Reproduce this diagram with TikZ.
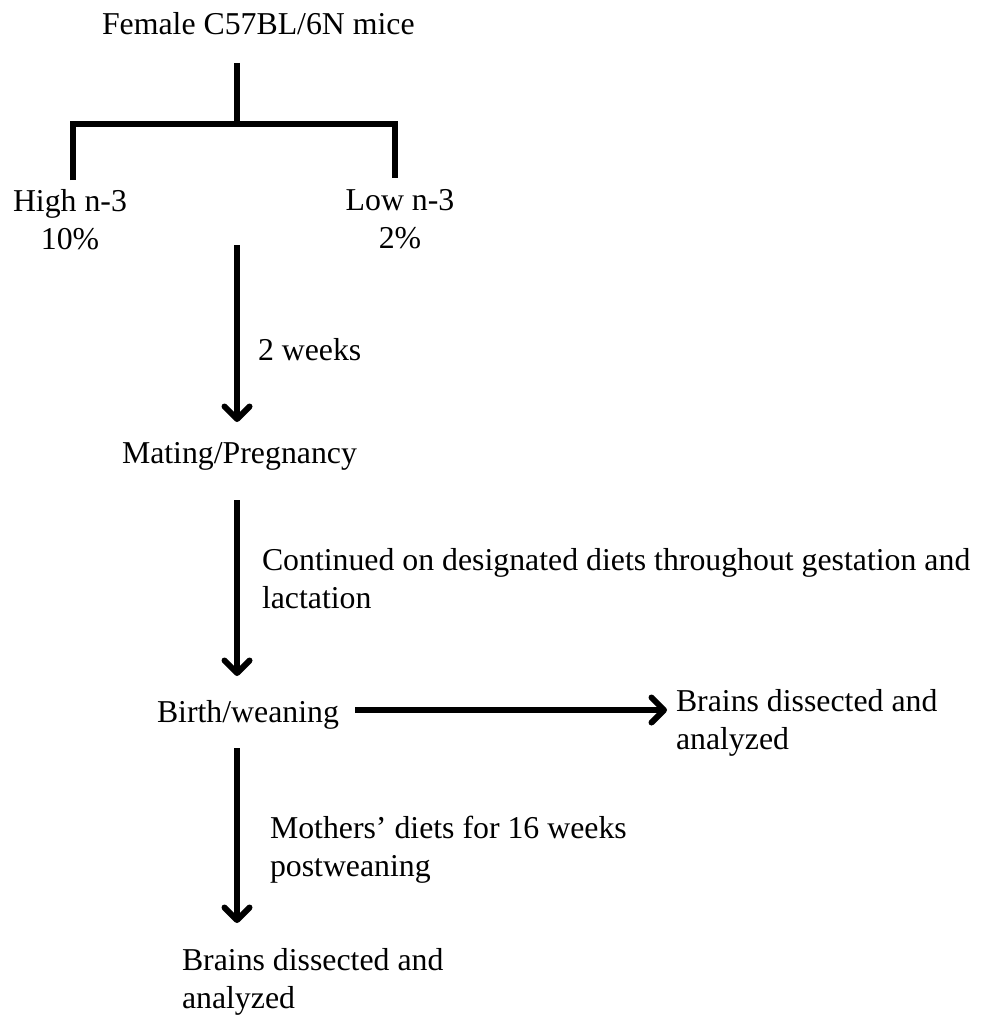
\documentclass[tikz,border=0pt]{standalone}
\usepackage{fontspec}
\setmainfont{Liberation Serif}
\usetikzlibrary{arrows.meta}
\begin{document}
\begin{tikzpicture}[x=1pt,y=-1pt,
  lbl/.style={inner sep=0pt, outer sep=0pt, font=\fontsize{31.8}{37.5}\selectfont},
  treeline/.style={line width=6pt, line join=miter},
  flow/.style={line width=6pt, -{Straight Barb[length=12.5pt,width=25pt,line cap=round,line join=round]}}]
\fill[white] (0,0) rectangle (982,1022);
\useasboundingbox (0,0) rectangle (982,1022);
% labels
\node[lbl, anchor=base west] (female) at (102,35) {Female C57BL/6N mice};
\node[lbl, anchor=base, align=center] (high) at (70,249) {High n-3\\10\%};
\node[lbl, anchor=base, align=center] (low) at (400,248) {Low n-3\\2\%};
\node[lbl, anchor=base west] (wk2) at (258,360) {2 weeks};
\node[lbl, anchor=base west] (mating) at (122,463) {Mating/Pregnancy};
\node[lbl, anchor=base west, align=left] (cont) at (262,608) {Continued on designated diets throughout gestation and\\lactation};
\node[lbl, anchor=base west] (birth) at (157,722) {Birth/weaning};
\node[lbl, anchor=base west, align=left] (brainsR) at (676,749) {Brains dissected and\\analyzed};
\node[lbl, anchor=base west, align=left] (moth) at (270,876) {Mothers’ diets for 16 weeks\\postweaning};
\node[lbl, anchor=base west, align=left] (brainsB) at (182,1008) {Brains dissected and\\analyzed};
% tree
\coordinate (stemtop) at (237,63);
\coordinate (split) at (237,124);
\coordinate (barL) at (73,124);
\coordinate (barR) at (395,124);
\coordinate (dropL) at (73,180);
\coordinate (dropR) at (395,178);
\draw[treeline] (stemtop) -- (split);
\draw[treeline] (dropL) -- (barL) -- (barR) -- (dropR);
% arrows
\coordinate (a1s) at (237,245); \coordinate (a1e) at (237,422);
\coordinate (a2s) at (237,500); \coordinate (a2e) at (237,676);
\coordinate (a3s) at (237,748); \coordinate (a3e) at (237,923);
\coordinate (hs) at (355,710); \coordinate (he) at (667,710);
\draw[flow] (a1s) -- (a1e);
\draw[flow] (a2s) -- (a2e);
\draw[flow] (a3s) -- (a3e);
\draw[flow] (hs) -- (he);
\end{tikzpicture}
\end{document}
